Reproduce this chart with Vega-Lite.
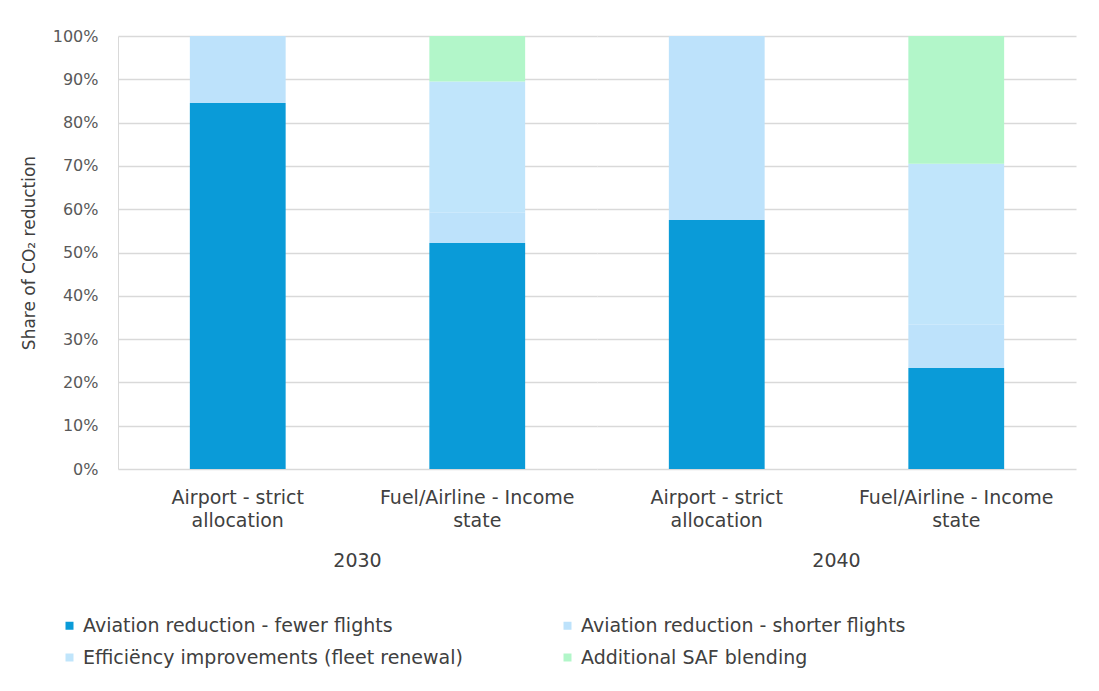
{
  "$schema": "https://vega.github.io/schema/vega-lite/v6.json",
  "padding": {"left": 20, "top": 28, "right": 10, "bottom": 10},
  "background": "#ffffff",
  "data": {"values": [
    {"year": "2030", "scenario": "Airport - strict allocation", "category": "Aviation reduction - fewer flights", "share": 84.5},
    {"year": "2030", "scenario": "Airport - strict allocation", "category": "Aviation reduction - shorter flights", "share": 15.5},
    {"year": "2030", "scenario": "Airport - strict allocation", "category": "Efficiëncy improvements (fleet renewal)", "share": 0},
    {"year": "2030", "scenario": "Airport - strict allocation", "category": "Additional SAF blending", "share": 0},
    {"year": "2030", "scenario": "Fuel/Airline - Income state", "category": "Aviation reduction - fewer flights", "share": 52.2},
    {"year": "2030", "scenario": "Fuel/Airline - Income state", "category": "Aviation reduction - shorter flights", "share": 7},
    {"year": "2030", "scenario": "Fuel/Airline - Income state", "category": "Efficiëncy improvements (fleet renewal)", "share": 30.3},
    {"year": "2030", "scenario": "Fuel/Airline - Income state", "category": "Additional SAF blending", "share": 10.5},
    {"year": "2040", "scenario": "Airport - strict allocation", "category": "Aviation reduction - fewer flights", "share": 57.5},
    {"year": "2040", "scenario": "Airport - strict allocation", "category": "Aviation reduction - shorter flights", "share": 42.5},
    {"year": "2040", "scenario": "Airport - strict allocation", "category": "Efficiëncy improvements (fleet renewal)", "share": 0},
    {"year": "2040", "scenario": "Airport - strict allocation", "category": "Additional SAF blending", "share": 0},
    {"year": "2040", "scenario": "Fuel/Airline - Income state", "category": "Aviation reduction - fewer flights", "share": 23.3},
    {"year": "2040", "scenario": "Fuel/Airline - Income state", "category": "Aviation reduction - shorter flights", "share": 10},
    {"year": "2040", "scenario": "Fuel/Airline - Income state", "category": "Efficiëncy improvements (fleet renewal)", "share": 37.2},
    {"year": "2040", "scenario": "Fuel/Airline - Income state", "category": "Additional SAF blending", "share": 29.5}
  ]},
  "transform": [
    {"calculate": "indexof(['Aviation reduction - fewer flights', 'Aviation reduction - shorter flights', 'Efficiëncy improvements (fleet renewal)', 'Additional SAF blending'], datum.category)", "as": "stackOrder"}
  ],
  "facet": {
    "column": {
      "field": "year", "type": "nominal", "title": null,
      "header": {"labelOrient": "bottom", "labelFontSize": 19, "labelColor": "#404040", "labelFont": "DejaVu Sans", "labelPadding": 22}
    }
  },
  "spacing": 0,
  "spec": {
    "width": 479,
    "height": 433,
    "mark": {"type": "bar", "width": {"band": 1}},
    "encoding": {
      "x": {
        "field": "scenario", "type": "nominal", "title": null,
        "scale": {"paddingInner": 0.6, "paddingOuter": 0.3},
        "axis": {
          "labelAngle": 0, "labelFontSize": 19, "labelColor": "#404040", "labelFont": "DejaVu Sans",
          "labelLineHeight": 23, "labelPadding": 19, "ticks": false, "domain": false, "labelLimit": 300,
          "labelExpr": "datum.label == 'Airport - strict allocation' ? ['Airport - strict', 'allocation'] : ['Fuel/Airline - Income', 'state']"
        }
      },
      "y": {
        "field": "share", "type": "quantitative", "stack": "zero",
        "scale": {"domain": [0, 100]},
        "title": "Share of CO₂ reduction",
        "axis": {
          "values": [0, 10, 20, 30, 40, 50, 60, 70, 80, 90, 100],
          "labelExpr": "datum.value + '%'",
          "labelFontSize": 16, "labelColor": "#595959", "labelFont": "DejaVu Sans", "labelPadding": 20,
          "ticks": false, "domain": true, "domainColor": "#d9d9d9",
          "grid": true, "gridColor": "#d9d9d9", "gridWidth": 1.5,
          "titleFontSize": 17, "titleFont": "DejaVu Sans", "titleFontWeight": "normal", "titleColor": "#404040", "titlePadding": 14
        }
      },
      "order": {"field": "stackOrder", "type": "quantitative", "sort": "ascending"},
      "color": {
        "field": "category", "type": "nominal",
        "scale": {
          "domain": ["Aviation reduction - fewer flights", "Aviation reduction - shorter flights", "Efficiëncy improvements (fleet renewal)", "Additional SAF blending"],
          "range": ["#0a9bd8", "#bde2fb", "#c0e5fb", "#b2f6c9"]
        },
        "legend": {
          "title": null, "orient": "none", "legendX": -58, "legendY": 580, "columns": 2, "direction": "horizontal",
          "symbolType": "square", "symbolSize": 64, "symbolStrokeWidth": 0, "labelFontSize": 19, "labelFont": "DejaVu Sans",
          "labelColor": "#404040", "labelLimit": 600, "rowPadding": 12, "columnPadding": 95, "symbolOffset": 0
        }
      }
    }
  },
  "config": {
    "view": {"stroke": null},
    "axis": {"gridColor": "#d9d9d9"}
  }
}
